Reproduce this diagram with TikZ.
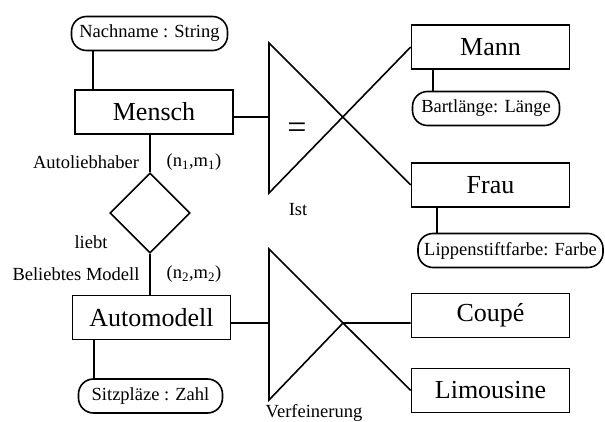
\documentclass[tikz,border=0pt]{standalone}
\usepackage{fontspec}
\setmainfont{Liberation Serif}
\usetikzlibrary{shapes.geometric}

\begin{document}
\begin{tikzpicture}[x=1pt, y=-1pt, line width=1.6pt,
  entity/.style={draw, minimum width=158pt, minimum height=44pt, inner sep=0pt, font=\fontsize{26}{30}\selectfont},
  attrib/.style={draw, rounded corners=15pt, minimum height=34pt, inner sep=0pt, font=\fontsize{18.5}{22}\selectfont},
  role/.style={inner sep=0pt, font=\fontsize{18.5}{22}\selectfont}]
  \useasboundingbox (0,0) rectangle (605,422);

  \node[entity] (mensch) at (154,112)   {Mensch};
  \node[entity] (mann)   at (490.5,47)  {Mann};
  \node[entity] (frau)   at (490.5,185) {Frau};
  \node[entity] (auto)   at (151.5,317.5) {Automodell};
  \node[entity] (coupe)  at (490.5,315.5) {Coupé};
  \node[entity] (limo)   at (490.5,390.5) {Limousine};

  \node[attrib, minimum width=156pt] (nachname) at (149.5,33.5) {Nachname : String};
  \node[attrib, minimum width=147pt] (bart)     at (486,108.5)  {Bartlänge: Länge};
  \node[attrib, minimum width=185pt] (lippe)    at (510.5,250.5) {Lippenstiftfarbe: Farbe};
  \node[attrib, minimum width=144pt] (sitz)     at (150.5,396)  {Sitzpläze : Zahl};

  \node[draw, diamond, minimum width=80pt, minimum height=80pt, inner sep=0pt] (rel) at (150,213) {};

  \node[role] (rolle1) at (86,162)  {Autoliebhaber};
  \node[role] (card1)  at (194,162) {(n\textsubscript{1},m\textsubscript{1})};
  \node[role] (liebt)  at (91,242)  {liebt};
  \node[role] (rolle2) at (76,274)  {Beliebtes Modell};
  \node[role] (card2)  at (194,274) {(n\textsubscript{2},m\textsubscript{2})};
  \node[role] (ist)    at (298,210) {Ist};
  \node[role] (verf)   at (314,413) {Verfeinerung};
  \node[inner sep=0pt, font=\fontsize{34}{34}\selectfont] (eq) at (297,131) {=};

  \coordinate (a1) at ([xshift=19pt]mensch.north west);
  \coordinate (a2) at ([xshift=22pt]mann.south west);
  \coordinate (a3) at ([xshift=26pt]frau.south west);
  \coordinate (a4) at ([xshift=22.5pt]auto.south west);
  \draw (a1) -- (a1 |- nachname.south);
  \draw (a2) -- (a2 |- bart.north);
  \draw (a3) -- (a3 |- lippe.north);
  \draw (a4) -- (a4 |- sitz.north);

  \draw (rel.north |- mensch.south) -- (rel.north);
  \draw (rel.south) -- (rel.south |- auto.north);

  \coordinate (t1top) at (269,43);
  \coordinate (t1bot) at (269,193);
  \coordinate (t1mid) at (269,117);
  \draw (frau.west) -- (t1top) -- (t1bot) -- (mann.west);
  \draw (mensch.east |- t1mid) -- (t1mid);

  \coordinate (t2top) at (269,249);
  \coordinate (t2bot) at (269,400);
  \coordinate (t2tip) at (343,323);
  \draw (limo.west) -- (t2top) -- (t2bot) -- (t2tip) -- (t2tip -| coupe.west);
  \draw (auto.east |- t2tip) -- (t2tip -| t2top);
\end{tikzpicture}
\end{document}
